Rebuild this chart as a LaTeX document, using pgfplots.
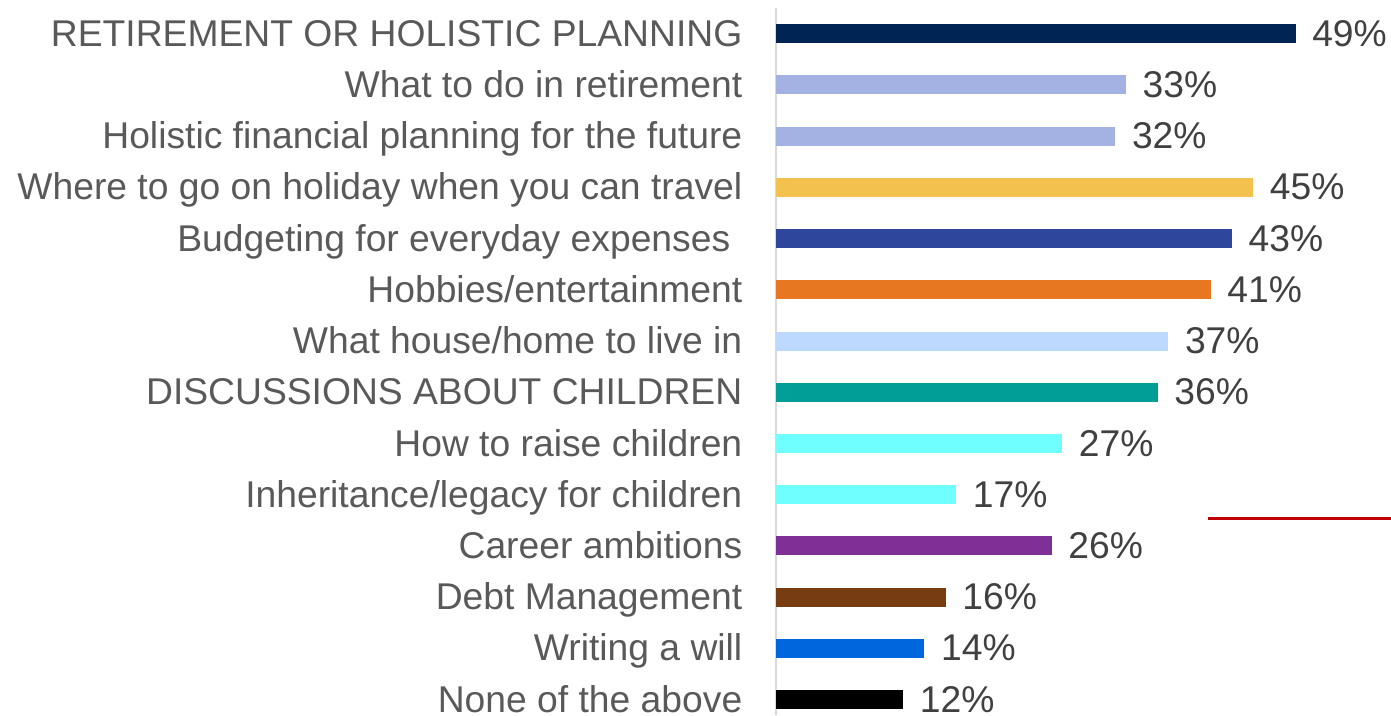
\documentclass[border=0pt]{standalone}
\usepackage{pgfplots}
\pgfplotsset{compat=1.18}
\usepackage{fontspec}
\setmainfont{Liberation Sans}
\definecolor{labgray}{HTML}{595959}
\definecolor{valgray}{HTML}{404040}
\definecolor{axgray}{HTML}{D9D9D9}
\definecolor{c1}{HTML}{002555}
\definecolor{c2}{HTML}{A3B1E3}
\definecolor{c3}{HTML}{F2C14E}
\definecolor{c4}{HTML}{2E479C}
\definecolor{c5}{HTML}{E87722}
\definecolor{c6}{HTML}{BDD9FF}
\definecolor{c7}{HTML}{009E96}
\definecolor{c8}{HTML}{70FFFF}
\definecolor{c9}{HTML}{7F3096}
\definecolor{c10}{HTML}{773C10}
\definecolor{c11}{HTML}{0066DD}
\definecolor{linered}{HTML}{C00000}
\begin{document}
\begin{tikzpicture}
\path[use as bounding box] (-7.76,0) rectangle (6.15,7.15);
\begin{axis}[
    at={(0,0)}, anchor=south west,
    scale only axis,
    width=6.15cm, height=7.07cm,
    xbar, bar width=0.19cm, bar shift=0pt,
    xmin=0, xmax=58,
    ymin=-0.5, ymax=13.3, y dir=reverse,
    axis line style={draw=none},
    xtick=\empty,
    ytick={0,...,13},
    yticklabels={RETIREMENT OR HOLISTIC PLANNING, What to do in retirement,
      Holistic financial planning for the future, Where to go on holiday when you can travel,
      Budgeting for everyday expenses\kern0.12cm, Hobbies/entertainment, What house/home to live in,
      DISCUSSIONS ABOUT CHILDREN, How to raise children, Inheritance/legacy for children,
      Career ambitions, Debt Management, Writing a will, None of the above},
    major tick length=0pt,
    yticklabel style={font=\fontsize{10.6pt}{12pt}\selectfont, text=labgray, inner sep=0pt,
      anchor=east, text height=0.716em, text depth=0pt, xshift=-0.33cm},
    /pgf/number format/assume math mode=true,
    nodes near coords={\pgfmathprintnumber{\pgfplotspointmeta}\%},
    nodes near coords style={font=\fontsize{10.6pt}{12pt}\selectfont, text=valgray, anchor=west,
      inner sep=0pt, text height=0.716em, text depth=0pt, xshift=0.16cm},
    clip=false
]
\draw[axgray, line width=0.6pt] (axis cs:0,-0.5) -- (axis cs:0,13.3);
\addplot[draw=none, fill=c1] coordinates {(49,0)};
\addplot[draw=none, fill=c2] coordinates {(33,1)};
\addplot[draw=none, fill=c2] coordinates {(32,2)};
\addplot[draw=none, fill=c3] coordinates {(45,3)};
\addplot[draw=none, fill=c4] coordinates {(43,4)};
\addplot[draw=none, fill=c5] coordinates {(41,5)};
\addplot[draw=none, fill=c6] coordinates {(37,6)};
\addplot[draw=none, fill=c7] coordinates {(36,7)};
\addplot[draw=none, fill=c8] coordinates {(27,8)};
\addplot[draw=none, fill=c8] coordinates {(17,9)};
\addplot[draw=none, fill=c9] coordinates {(26,10)};
\addplot[draw=none, fill=c10] coordinates {(16,11)};
\addplot[draw=none, fill=c11] coordinates {(14,12)};
\addplot[draw=none, fill=black] coordinates {(12,13)};
\draw[linered, line width=0.85pt] (axis cs:40.7,9.47) -- (axis cs:58,9.47);
\end{axis}
\end{tikzpicture}
\end{document}
